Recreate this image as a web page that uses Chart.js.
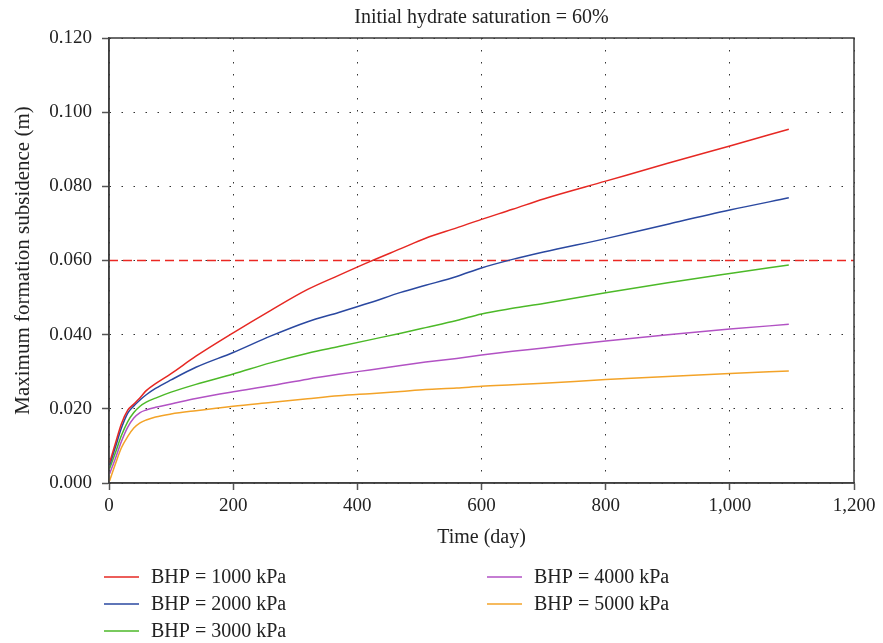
<!DOCTYPE html>
<html>
<head>
<meta charset="utf-8">
<script src="https://cdn.jsdelivr.net/npm/chart.js@4.4.1/dist/chart.umd.min.js"></script>
<style>
  html, body { margin: 0; padding: 0; background: #fff; }
  #wrap { width: 883px; height: 643px; }
</style>
</head>
<body>
<div id="wrap"><canvas id="subsidence-chart" width="883" height="643"></canvas></div>
<script>
// days sampled along every curve
const days = [1, 10, 20, 30, 40, 50, 60, 75, 100, 140, 200, 260, 320, 370, 420, 470, 510, 560, 600, 650, 700, 800, 900, 1000, 1095];

// maximum formation subsidence (m) for each bottom-hole pressure
const bhp1000 = [0.0055, 0.0105, 0.0160, 0.0196, 0.0213, 0.0230, 0.0249, 0.0268, 0.0295, 0.0342, 0.0405, 0.0465, 0.0522, 0.0560, 0.0597, 0.0632, 0.0660, 0.0688, 0.0711, 0.0738, 0.0766, 0.0814, 0.0862, 0.0909, 0.0954];
const bhp2000 = [0.0048, 0.0095, 0.0148, 0.0188, 0.0208, 0.0224, 0.0238, 0.0255, 0.0278, 0.0312, 0.0352, 0.0396, 0.0435, 0.0460, 0.0486, 0.0514, 0.0533, 0.0557, 0.0580, 0.0603, 0.0623, 0.0659, 0.0698, 0.0736, 0.0769];
const bhp3000 = [0.0039, 0.0080, 0.0128, 0.0165, 0.0190, 0.0207, 0.0218, 0.0229, 0.0245, 0.0266, 0.0294, 0.0324, 0.0350, 0.0368, 0.0386, 0.0404, 0.0419, 0.0438, 0.0456, 0.0471, 0.0484, 0.0513, 0.0540, 0.0565, 0.0588];
const bhp4000 = [0.0025, 0.0065, 0.0112, 0.0150, 0.0175, 0.0190, 0.0197, 0.0204, 0.0213, 0.0228, 0.0246, 0.0262, 0.0280, 0.0293, 0.0305, 0.0317, 0.0326, 0.0336, 0.0345, 0.0355, 0.0364, 0.0383, 0.0400, 0.0415, 0.0428];
const bhp5000 = [0.0006, 0.0050, 0.0095, 0.0125, 0.0148, 0.0162, 0.0170, 0.0178, 0.0186, 0.0195, 0.0207, 0.0217, 0.0227, 0.0235, 0.0241, 0.0247, 0.0252, 0.0256, 0.0261, 0.0265, 0.0269, 0.0279, 0.0287, 0.0295, 0.0302];

const seriesLabels = ['BHP = 1000 kPa', 'BHP = 2000 kPa', 'BHP = 3000 kPa', 'BHP = 4000 kPa', 'BHP = 5000 kPa'];
const seriesColors = ['rgb(230,40,35)', 'rgb(42,72,160)', 'rgb(76,185,40)', 'rgb(178,82,196)', 'rgb(243,163,40)'];

// reference level (dashed)
const limitDays = [0, 1200];
const limitValue = 0.060;

const xTicks = [0, 200, 400, 600, 800, 1000, 1200];
const yTickLabels = ['0.000', '0.020', '0.040', '0.060', '0.080', '0.100', '0.120'];

const chartTitle = 'Initial hydrate saturation = 60%';
const FONT = '"Liberation Serif", "DejaVu Serif", serif';

const toPoints = vals => vals.map((v, i) => ({ x: days[i], y: v }));
const seriesValues = [bhp1000, bhp2000, bhp3000, bhp4000, bhp5000];

const datasets = seriesValues.map((vals, i) => ({
  label: seriesLabels[i],
  data: toPoints(vals),
  borderColor: seriesColors[i],
  backgroundColor: seriesColors[i],
  borderWidth: 1.5,
  pointRadius: 0,
  cubicInterpolationMode: 'monotone',
  fill: false
}));

datasets.push({
  label: 'limit',
  data: limitDays.map(d => ({ x: d, y: limitValue })),
  borderColor: 'rgb(235,40,35)',
  borderWidth: 1.6,
  borderDash: [9, 5],
  pointRadius: 0,
  fill: false
});

// frame, title and two-column legend
const decorations = {
  id: 'decorations',
  afterDraw(chart) {
    const { ctx, chartArea } = chart;
    ctx.save();
    ctx.strokeStyle = '#3a3a3a';
    ctx.lineWidth = 1.5;
    ctx.strokeRect(chartArea.left, chartArea.top, chartArea.right - chartArea.left, chartArea.bottom - chartArea.top);

    ctx.fillStyle = '#222';
    ctx.font = '20px ' + FONT;
    ctx.textAlign = 'center';
    ctx.textBaseline = 'middle';
    ctx.fillText(chartTitle, (chartArea.left + chartArea.right) / 2, 18);

    const cols = [[0, 1, 2], [3, 4]];
    const colX = [104, 487];
    const rowY = [577, 604, 631];
    ctx.textAlign = 'left';
    cols.forEach((col, c) => {
      col.forEach((di, r) => {
        const ds = chart.data.datasets[di];
        ctx.strokeStyle = ds.borderColor;
        ctx.lineWidth = 1.5;
        ctx.beginPath();
        ctx.moveTo(colX[c], rowY[r]);
        ctx.lineTo(colX[c] + 35, rowY[r]);
        ctx.stroke();
        ctx.fillStyle = '#222';
        ctx.fillText(ds.label, colX[c] + 47, rowY[r] + 1);
      });
    });
    ctx.restore();
  }
};

const gridStyle = {
  color: '#333',
  lineWidth: 1,
  drawTicks: true,
  tickLength: 7,
  tickColor: '#555',
  tickWidth: 1.5
};

new Chart(document.getElementById('subsidence-chart').getContext('2d'), {
  type: 'line',
  data: { datasets: datasets },
  options: {
    responsive: false,
    animation: false,
    layout: { padding: { top: 38, right: 29, bottom: 93, left: 0 } },
    plugins: {
      legend: { display: false },
      title: { display: false },
      tooltip: { enabled: false }
    },
    scales: {
      x: {
        type: 'linear',
        min: 0,
        max: 1200,
        afterBuildTicks: scale => { scale.ticks = xTicks.map(v => ({ value: v })); },
        afterFit: scale => { scale.height = 67; },
        grid: gridStyle,
        border: { display: true, color: '#555', width: 1.5, dash: [1.5, 10.5] },
        ticks: {
          color: '#222',
          padding: 5,
          maxRotation: 0,
          font: { family: FONT, size: 19 },
          callback: v => v.toLocaleString('en-US')
        },
        title: {
          display: true,
          text: 'Time (day)',
          color: '#222',
          padding: { top: 0, bottom: 0 },
          font: { family: FONT, size: 20 }
        }
      },
      y: {
        min: 0,
        max: 0.12,
        afterBuildTicks: scale => { scale.ticks = yTickLabels.map(t => ({ value: parseFloat(t) })); },
        afterFit: scale => { scale.width = 109; },
        grid: gridStyle,
        border: { display: true, color: '#555', width: 1.5, dash: [1.5, 10.5] },
        ticks: {
          color: '#222',
          padding: 10,
          font: { family: FONT, size: 19 },
          callback: (v, i) => yTickLabels[i]
        },
        title: {
          display: true,
          text: 'Maximum formation subsidence (m)',
          color: '#222',
          padding: { top: 11, bottom: 0 },
          font: { family: FONT, size: 21 }
        }
      }
    }
  },
  plugins: [decorations]
});
</script>
</body>
</html>
